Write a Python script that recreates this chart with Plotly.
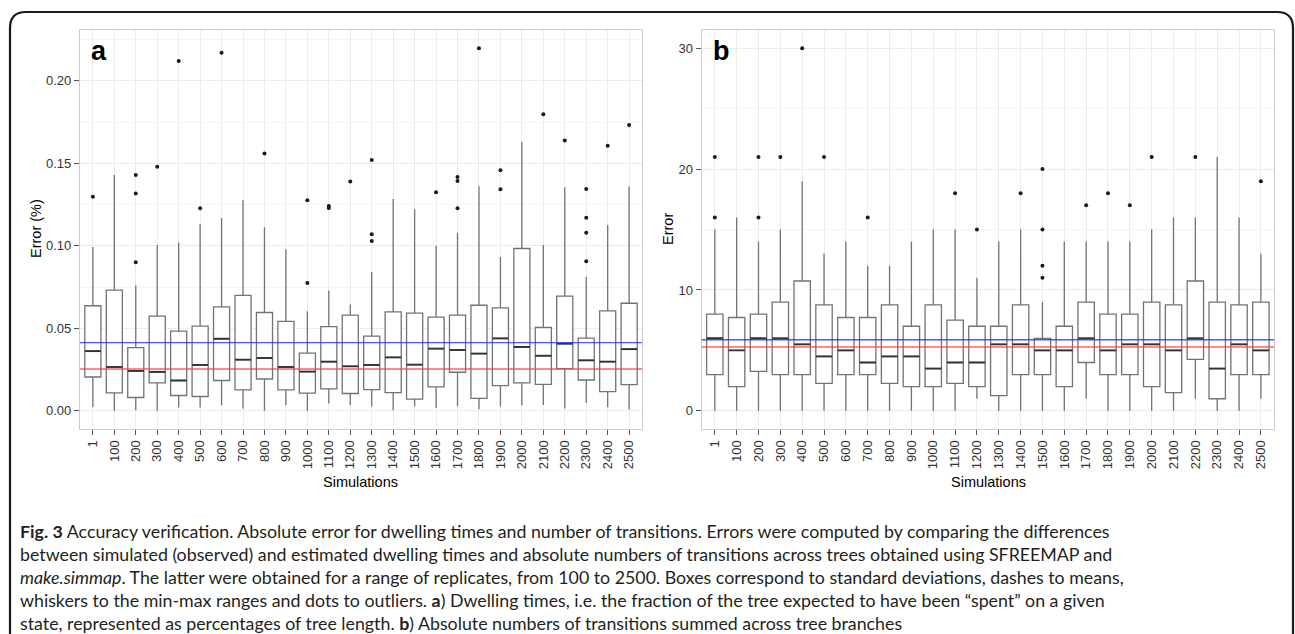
import plotly.graph_objects as go

W, H = 1295, 634

# ---------------- data ----------------
sims = ["1", "100", "200", "300", "400", "500", "600", "700", "800", "900", "1000",
        "1100", "1200", "1300", "1400", "1500", "1600", "1700", "1800", "1900", "2000",
        "2100", "2200", "2300", "2400", "2500"]

# panel a: dwelling-time error (%)
a_q1 = [0.0205, 0.0109, 0.0081, 0.0169, 0.0093, 0.0087, 0.0184, 0.0127, 0.0193, 0.0127, 0.0107,
        0.0133, 0.0105, 0.0129, 0.0111, 0.0071, 0.0145, 0.0234, 0.0075, 0.0153, 0.0169,
        0.0161, 0.0256, 0.0187, 0.0117, 0.0159]
a_med = [0.0362, 0.0266, 0.0242, 0.0236, 0.0184, 0.0278, 0.0437, 0.0310, 0.0320, 0.0266, 0.0238,
         0.0298, 0.0270, 0.0278, 0.0324, 0.0280, 0.0377, 0.0369, 0.0347, 0.0439, 0.0387,
         0.0334, 0.0407, 0.0306, 0.0298, 0.0374]
a_q3 = [0.0637, 0.0731, 0.0383, 0.0574, 0.0483, 0.0513, 0.0630, 0.0700, 0.0596, 0.0542, 0.0350,
        0.0511, 0.0580, 0.0453, 0.0600, 0.0592, 0.0568, 0.0580, 0.0640, 0.0624, 0.0984,
        0.0505, 0.0695, 0.0441, 0.0606, 0.0652]
a_lo = [0.0024, 0.0, 0.0004, 0.0, 0.0020, 0.0020, 0.0034, 0.0014, 0.0, 0.0034, 0.0,
        0.0045, 0.0036, 0.0026, 0.0004, 0.0026, 0.0018, 0.0028, 0.0010, 0.0026, 0.0034,
        0.0036, 0.0014, 0.0047, 0.0022, 0.0008]
a_hi = [0.0993, 0.1429, 0.0761, 0.1005, 0.1020, 0.1132, 0.1168, 0.1277, 0.1113, 0.0980, 0.0604,
        0.0729, 0.0644, 0.0842, 0.1284, 0.1222, 0.1001, 0.1080, 0.1361, 0.0932, 0.1629,
        0.1005, 0.1355, 0.0812, 0.1127, 0.1359]
a_out = [[0.1297], [], [0.090, 0.1317, 0.1429], [0.148], [0.212], [0.1228], [0.217], [],
         [0.156], [], [0.0775, 0.1277], [0.123, 0.1242], [0.139], [0.103, 0.107, 0.152], [],
         [], [0.1325], [0.1228, 0.1393, 0.1417], [0.2198], [0.1343, 0.1458], [], [0.1798],
         [0.1639], [0.0906, 0.108, 0.117, 0.1345], [0.1606], [0.1733]]
a_blue = 0.0413
a_red = 0.0254

# panel b: number of transitions error
b_q1 = [3.0, 2.0, 3.27, 3.0, 3.0, 2.28, 3.0, 3.0, 2.28, 2.0, 2.0, 2.28, 2.0, 1.26, 3.0,
        3.0, 2.0, 4.0, 3.0, 3.0, 2.0, 1.51, 4.26, 1.0, 3.0, 3.0]
b_med = [6.0, 5.0, 6.0, 6.0, 5.5, 4.5, 5.0, 4.0, 4.5, 4.5, 3.5, 4.0, 4.0, 5.5, 5.5,
         5.0, 5.0, 6.0, 5.0, 5.5, 5.5, 5.0, 6.0, 3.5, 5.5, 5.0]
b_q3 = [8.0, 7.72, 8.0, 9.0, 10.74, 8.76, 7.72, 7.72, 8.76, 7.0, 8.76, 7.5, 7.0, 7.0, 8.76,
        6.0, 7.0, 9.0, 8.0, 8.0, 9.0, 8.76, 10.74, 9.0, 8.76, 9.0]
b_lo = [0, 0, 0, 0, 0, 0, 0, 0, 0, 0, 0, 0, 1, 0, 0, 0, 0, 1, 0, 0, 0, 0, 1, 0, 0, 1]
b_hi = [15, 16, 14, 15, 19, 13, 14, 12, 12, 14, 15, 15, 11, 14, 15, 9, 14, 14, 14, 14,
        15, 16, 16, 21, 16, 13]
b_out = [[16, 21], [], [16, 21], [21], [30], [21], [], [16], [], [], [], [18], [15], [],
         [18], [11, 12, 15, 20], [], [17], [18], [17], [21], [], [21], [], [], [19]]
b_blue = 5.88
b_red = 5.28

a_yticks = [0.00, 0.05, 0.10, 0.15, 0.20]
b_yticks = [0, 10, 20, 30]

caption_lines = [
    "<b>Fig. 3</b> Accuracy verification. Absolute error for dwelling times and number of transitions. Errors were computed by comparing the differences",
    "between simulated (observed) and estimated dwelling times and absolute numbers of transitions across trees obtained using SFREEMAP and",
    "<i>make.simmap</i>. The latter were obtained for a range of replicates, from 100 to 2500. Boxes correspond to standard deviations, dashes to means,",
    "whiskers to the min-max ranges and dots to outliers. <b>a</b>) Dwelling times, i.e. the fraction of the tree expected to have been \u201cspent\u201d on a given",
    "state, represented as percentages of tree length. <b>b</b>) Absolute numbers of transitions summed across tree branches",
]

# ---------------- helpers ----------------
def px(x):
    return x / W

def py(y):
    return 1 - y / H

pos = list(range(len(sims)))
BOXW = 0.75
BOX_LINE = "#737373"
MED_LINE = "#333333"
FONT = "Liberation Sans, Arial, sans-serif"

fig = go.Figure()


def add_panel(xa, ya, q1, med, q3, lo, hi, outs):
    fig.add_trace(go.Box(
        x=pos, q1=q1, median=med, q3=q3, lowerfence=lo, upperfence=hi,
        boxpoints=False, width=BOXW, whiskerwidth=0,
        fillcolor="white", line=dict(color=BOX_LINE, width=1.3),
        xaxis=xa, yaxis=ya, showlegend=False, hoverinfo="skip"))
    mx, my = [], []
    for i, m in zip(pos, med):
        mx += [i - BOXW / 2, i + BOXW / 2, None]
        my += [m, m, None]
    fig.add_trace(go.Scatter(x=mx, y=my, mode="lines",
                             line=dict(color=MED_LINE, width=1.9),
                             xaxis=xa, yaxis=ya, showlegend=False, hoverinfo="skip"))
    ox, oy = [], []
    for i, vals in zip(pos, outs):
        for v in vals:
            ox.append(i)
            oy.append(v)
    fig.add_trace(go.Scatter(x=ox, y=oy, mode="markers",
                             marker=dict(color="#1a1a1a", size=4),
                             xaxis=xa, yaxis=ya, showlegend=False, hoverinfo="skip"))


add_panel("x", "y", a_q1, a_med, a_q3, a_lo, a_hi, a_out)
add_panel("x2", "y2", b_q1, b_med, b_q3, b_lo, b_hi, b_out)

xr = [-0.6, len(sims) - 1 + 0.6]
common_x = dict(
    range=xr, tickmode="array", tickvals=pos, ticktext=sims, tickangle=-90,
    showgrid=True, gridcolor="#ececec", gridwidth=1,
    showline=True, linecolor="#cccccc", linewidth=1.2, mirror=True,
    ticks="outside", ticklen=5, tickwidth=1, tickcolor="#555555",
    tickfont=dict(family=FONT, size=13, color="#333333"), zeroline=False,
)
common_y = dict(
    showgrid=True, gridcolor="#ececec", gridwidth=1,
    showline=True, linecolor="#cccccc", linewidth=1.2, mirror=True,
    ticks="outside", ticklen=5, tickwidth=1, tickcolor="#555555",
    tickfont=dict(family=FONT, size=13, color="#333333"), zeroline=False,
)

fig.update_layout(
    width=W, height=H, margin=dict(l=0, r=0, t=0, b=0),
    paper_bgcolor="white", plot_bgcolor="white", showlegend=False,
    xaxis=dict(domain=[px(80), px(642)], anchor="y", **common_x),
    yaxis=dict(domain=[py(429), py(30)], anchor="x", range=[-0.011, 0.2308],
               tickmode="array", tickvals=a_yticks,
               ticktext=[f"{v:.2f}" for v in a_yticks],
               minor=dict(showgrid=True, dtick=0.025, tick0=0.025, gridcolor="#f5f5f5"),
               **common_y),
    xaxis2=dict(domain=[px(701.7), px(1274)], anchor="y2", **common_x),
    yaxis2=dict(domain=[py(429), py(30)], anchor="x2", range=[-1.5, 31.5],
                tickmode="array", tickvals=b_yticks, ticktext=[str(v) for v in b_yticks],
                minor=dict(showgrid=True, dtick=5, tick0=5, gridcolor="#f5f5f5"),
                **common_y),
)

shapes = []
for xref, yref, yb, yr in (("x domain", "y", a_blue, a_red), ("x2 domain", "y2", b_blue, b_red)):
    shapes.append(dict(type="line", xref=xref, yref=yref, x0=0, x1=1, y0=yb, y1=yb,
                       line=dict(color="rgba(40,40,255,0.8)", width=1.3), layer="above"))
    shapes.append(dict(type="line", xref=xref, yref=yref, x0=0, x1=1, y0=yr, y1=yr,
                       line=dict(color="rgba(255,60,60,0.6)", width=2), layer="above"))

# rounded frame of the figure
border = (f"M {px(10)},{py(700)} L {px(10)},{py(28)} "
          f"Q {px(10)},{py(12)} {px(26)},{py(12)} "
          f"L {px(1277)},{py(12)} Q {px(1293)},{py(12)} {px(1293)},{py(28)} "
          f"L {px(1293)},{py(700)}")
shapes.append(dict(type="path", xref="paper", yref="paper", path=border,
                   line=dict(color="#1a1a1a", width=2.2), layer="above"))
fig.update_layout(shapes=shapes)

ann = []
# panel letters
ann.append(dict(text="<b>a</b>", x=px(89), y=py(51), xref="paper", yref="paper",
                xanchor="left", yanchor="middle", showarrow=False,
                font=dict(family=FONT, size=27, color="black")))
ann.append(dict(text="<b>b</b>", x=px(711), y=py(51), xref="paper", yref="paper",
                xanchor="left", yanchor="middle", showarrow=False,
                font=dict(family=FONT, size=27, color="black")))
# axis titles
for xc, t in ((px(361), "Simulations"), (px(988), "Simulations")):
    ann.append(dict(text=t, x=xc, y=py(482), xref="paper", yref="paper",
                    xanchor="center", yanchor="middle", showarrow=False,
                    font=dict(family=FONT, size=14.5, color="black")))
ann.append(dict(text="Error (%)", x=px(36), y=py(229), xref="paper", yref="paper",
                textangle=-90, xanchor="center", yanchor="middle", showarrow=False,
                font=dict(family=FONT, size=14.5, color="black")))
ann.append(dict(text="Error", x=px(668), y=py(229), xref="paper", yref="paper",
                textangle=-90, xanchor="center", yanchor="middle", showarrow=False,
                font=dict(family=FONT, size=14.5, color="black")))
# caption
for k, line in enumerate(caption_lines):
    ann.append(dict(text=line, x=px(18), y=py(531 + 23.1 * k), xref="paper", yref="paper",
                    xanchor="left", yanchor="middle", showarrow=False, align="left",
                    font=dict(family="Lato, sans-serif", size=17.8, color="#231f20")))
fig.update_layout(annotations=ann)

fig.write_html("out.html")
